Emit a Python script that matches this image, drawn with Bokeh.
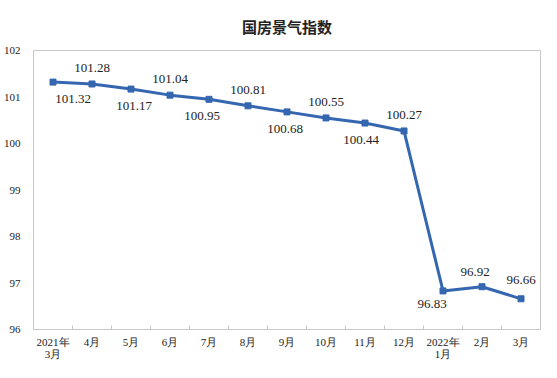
from bokeh.plotting import figure
from bokeh.models import ColumnDataSource, FixedTicker, Range1d
from bokeh.core.properties import value
from bokeh.embed import file_html
from bokeh.resources import INLINE

months = ["2021年\n3月", "4月", "5月", "6月", "7月", "8月", "9月", "10月", "11月", "12月", "2022年\n1月", "2月", "3月"]
index_values = [101.32, 101.28, 101.17, 101.04, 100.95, 100.81, 100.68, 100.55, 100.44, 100.27, 96.83, 96.92, 96.66]
y_ticks = [96, 97, 98, 99, 100, 101, 102]

# label placement (style): screen pixels, positive dy = downward
label_dx = [20, 0, 3, 0, -7, 0, -2, 0, -4, 0, -11, -7, 0]
label_dy = [17, -16, 17, -16, 17, -16, 17, -16, 17, -16, 13, -15, -19]

xs = list(range(len(months)))

p = figure(width=541, height=362, output_backend="svg", toolbar_location=None,
           x_range=Range1d(-0.5, len(months) - 0.5), y_range=Range1d(96, 102),
           min_border_left=25, min_border_right=1, min_border_top=49, min_border_bottom=0)

p.title.text = "国房景气指数"
p.title.align = "center"
p.title.text_font = "Noto Sans CJK SC"
p.title.text_font_size = "15px"
p.title.text_font_style = "bold"
p.title.text_color = "#222222"
p.title.standoff = 27

p.outline_line_color = "#c8c8c8"
p.outline_line_width = 1
p.xgrid.visible = False
p.ygrid.visible = False

serif = "Liberation Serif"

p.xaxis.ticker = FixedTicker(ticks=xs, minor_ticks=[i + 0.5 for i in xs[:-1]])
p.xaxis.major_label_overrides = {i: m for i, m in zip(xs, months)}
p.xaxis.major_tick_line_color = None
p.xaxis.major_tick_in = 0
p.xaxis.major_tick_out = 0
p.xaxis.minor_tick_in = 4
p.xaxis.minor_tick_out = 0
p.xaxis.minor_tick_line_color = "#c8c8c8"
p.xaxis.axis_line_color = "#c8c8c8"
p.xaxis.major_label_text_font = serif
p.xaxis.major_label_text_font_size = "11px"
p.xaxis.major_label_text_line_height = 1.0
p.xaxis.major_label_text_color = "#222222"
p.xaxis.major_label_standoff = 6

p.yaxis.ticker = FixedTicker(ticks=y_ticks)
p.yaxis.axis_line_color = None
p.yaxis.major_tick_line_color = None
p.yaxis.minor_tick_line_color = None
p.yaxis.major_label_text_font = serif
p.yaxis.major_label_text_font_size = "11px"
p.yaxis.major_label_text_color = "#222222"
p.yaxis.major_label_standoff = 7

src = ColumnDataSource(dict(x=xs, y=index_values, lab=[f"{v:.2f}" for v in index_values],
                            dx=label_dx, dy=label_dy))

color = "#3467b0"
p.line("x", "y", source=src, line_color=color, line_width=3)
p.scatter("x", "y", source=src, marker="square", size=6, fill_color=color, line_color=color)
p.text("x", "y", text="lab", source=src, x_offset="dx", y_offset="dy",
       text_align="center", text_baseline="middle",
       text_font=value("Liberation Serif"), text_font_size="13px", text_color="#222222")

open("out.html", "w").write(file_html(p, INLINE))
